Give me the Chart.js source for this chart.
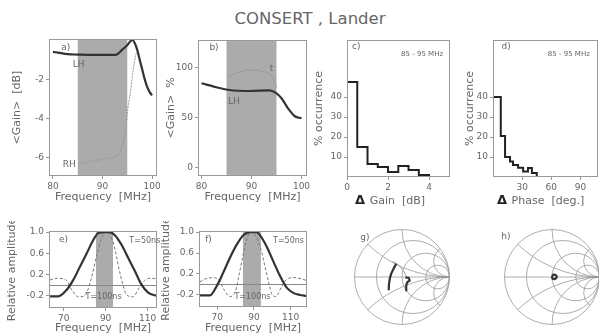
<!DOCTYPE html>
<html>
<head>
<meta charset="utf-8">
<script src="https://cdn.jsdelivr.net/npm/chart.js@4/dist/chart.umd.min.js"></script>
<style>
  html, body { margin: 0; padding: 0; background: #fff; overflow: hidden; width: 599px; height: 336px; }
  canvas { position: absolute; }
  #title { position: absolute; left: 0; top: 9px; width: 620px; text-align: center;
           font: 16.5px "DejaVu Sans"; color: #666; }
</style>
</head>
<body>
<div id="title">CONSERT , Lander</div>
<canvas id="cA" width="167" height="175" style="left:0;top:29px"></canvas>
<canvas id="cB" width="162" height="174" style="left:155px;top:30px"></canvas>
<canvas id="cC" width="155" height="177" style="left:305px;top:30px"></canvas>
<canvas id="cD" width="160" height="177" style="left:448px;top:30px"></canvas>
<canvas id="cE" width="167" height="114" style="left:0;top:221px"></canvas>
<canvas id="cF" width="162" height="114" style="left:155px;top:221px"></canvas>
<canvas id="cG" width="110" height="110" style="left:347px;top:222px"></canvas>
<canvas id="cH" width="110" height="110" style="left:497px;top:222px"></canvas>
<script>
/* ---------- data ---------- */

// a) mean gain [dB] vs frequency
const freqLH_a = [80, 81, 83, 85, 88, 90, 92, 93, 94, 95, 96, 96.5, 97, 97.5, 98, 98.5, 99, 99.5, 100];
const gainLH_a = [-0.56, -0.6, -0.68, -0.7, -0.72, -0.72, -0.72, -0.68, -0.45, -0.22, 0.05, -0.1, -0.45, -0.95, -1.45, -1.95, -2.35, -2.62, -2.8];
const freqRH_a = [85.5, 86.5, 88, 89.5, 91, 92.5, 93.5, 94.2, 94.7, 95.1, 95.6, 96, 96.4, 96.8, 97.2];
const gainRH_a = [-6.3, -6.25, -6.2, -6.12, -6.05, -5.95, -5.7, -5.2, -4.5, -3.5, -2.7, -1.85, -1.15, -0.65, -0.6];

// b) mean gain [%] vs frequency
const freqLH_b = [80, 83, 85.6, 89.6, 93.6, 94.8, 96, 97.3, 98.6, 100];
const gainLH_b = [84.2, 80.2, 77.5, 76.5, 77.2, 74.8, 69.2, 59.2, 51.5, 49.2];
const freqT_b = [85.3, 87.6, 89.6, 91.6, 93.3, 94.3, 95];
const gainT_b = [90.8, 95.8, 97.5, 96.8, 94.2, 89.2, 80];

// c) histogram of gain differences, 85-95 MHz
const gainEdges = [0, 0.5, 1, 1.5, 2, 2.5, 3, 3.5, 4];
const gainOcc = [47.5, 15, 6.5, 5, 2.5, 5.5, 3.5, 1];

// d) histogram of phase differences, 85-95 MHz
const phaseEdges = [0, 8, 12.4, 17.5, 20.6, 25.8, 31, 36, 40, 45];
const phaseOcc = [40, 20.5, 10, 7.7, 6, 4.6, 2.7, 4.5, 2];

// e) relative amplitude
const freq50_e = [63.5, 67.4, 71.4, 74.6, 77.8, 81, 84.1, 86.5, 89.7, 92, 94.4, 97.6, 100.8, 104, 107.1, 110.3, 114.3];
const amp50_e = [-0.21, -0.21, -0.09, 0.1, 0.35, 0.6, 0.85, 0.98, 1.0, 1.0, 0.94, 0.76, 0.51, 0.26, 0.01, -0.14, -0.2];
const freq100_e = [63.5, 67, 71, 74, 77, 80, 83, 86, 88, 90, 92, 94, 97, 100, 103, 106, 109, 112, 114.3];
const amp100_e = [0.1, 0.13, 0.1, -0.1, -0.22, -0.2, 0.1, 0.6, 0.88, 1.0, 0.95, 0.75, 0.2, -0.18, -0.22, -0.05, 0.1, 0.13, 0.12];

// f) relative amplitude
const freq50_f = [60.5, 66, 69.7, 73.3, 76.9, 80.6, 84.2, 87.9, 91.5, 93.3, 97, 100.6, 104.3, 107.9, 111.5, 115.2, 118.5];
const amp50_f = [-0.21, -0.21, -0.03, 0.23, 0.51, 0.76, 0.94, 1.0, 1.0, 0.94, 0.72, 0.44, 0.16, -0.06, -0.16, -0.2, -0.22];
const freq100_f = [60.5, 63, 67, 71, 74, 77, 80, 82, 84, 86, 88, 90, 92, 94, 96, 98, 100, 102, 105, 108, 112, 118.5];
const amp100_f = [0.05, 0.1, 0.13, 0.08, -0.12, -0.23, -0.12, 0.2, 0.55, 0.85, 1.0, 0.97, 0.85, 0.65, 0.35, 0.05, -0.2, -0.23, -0.05, 0.1, 0.13, 0.08];

// g), h) reflection coefficient on Smith chart (real, imag)
const gRe1 = [-0.12, -0.18, -0.24, -0.27, -0.28];
const gIm1 = [0.28, 0.17, 0.03, -0.12, -0.28];
const gRe2 = [0.07, 0.14, 0.16, 0.12, 0.09, 0.09];
const gIm2 = [-0.01, -0.02, -0.08, -0.1, -0.18, -0.3];
const gRe3 = [-0.2, -0.1, 0.0, 0.06, 0.1];
const gIm3 = [0.33, 0.27, 0.17, 0.08, 0.0];
const hRe = [0.0, 0.03, 0.08, 0.1, 0.06, 0.01, 0.0];
const hIm = [0.02, 0.05, 0.04, 0.0, -0.04, -0.03, 0.02];

// Smith chart grid
const smithR = [0.3, 1, 3];
const smithX = [0.4, 1, 3];

/* ---------- helpers ---------- */

const FONT = "DejaVu Sans";
const TXT = "#666";

const pts = (xs, ys) => xs.map((v, i) => ({ x: v, y: ys[i] }));
// histogram outline: rise at first edge, hold each value up to the next edge
const histPts = (edges, vals) => [{ x: edges[0], y: 0 }]
  .concat(vals.map((v, i) => ({ x: edges[i], y: v })))
  .concat([{ x: edges[edges.length - 1], y: 0 }]);

function drawSmith(chart) {
  const { ctx, scales: { x, y } } = chart;
  const cx = x.getPixelForValue(0), cy = y.getPixelForValue(0);
  const R = x.getPixelForValue(1) - cx;
  ctx.strokeStyle = "#999";
  ctx.lineWidth = 0.8;
  ctx.beginPath(); ctx.arc(cx, cy, R, 0, 2 * Math.PI); ctx.stroke();
  ctx.beginPath(); ctx.moveTo(cx - R, cy); ctx.lineTo(cx + R, cy); ctx.stroke();
  ctx.save();
  ctx.beginPath(); ctx.arc(cx, cy, R, 0, 2 * Math.PI); ctx.clip();
  smithR.forEach(r => {
    ctx.beginPath(); ctx.arc(cx + R * r / (1 + r), cy, R / (1 + r), 0, 2 * Math.PI); ctx.stroke();
  });
  smithX.forEach(v => {
    [1, -1].forEach(s => {
      ctx.beginPath(); ctx.arc(cx + R, cy - s * R / v, R / v, 0, 2 * Math.PI); ctx.stroke();
    });
  });
  ctx.restore();
}

// band, zero line, frame, labels
const deco = {
  id: "deco",
  beforeDatasetsDraw(chart, args, o) {
    const { ctx, chartArea: ca, scales } = chart;
    ctx.save();
    if (o.band) {
      const x1 = scales.x.getPixelForValue(o.band[0]);
      const x2 = scales.x.getPixelForValue(o.band[1]);
      ctx.fillStyle = "#ababab";
      ctx.fillRect(x1, ca.top, x2 - x1, ca.bottom - ca.top);
    }
    if (o.zero) {
      const y = Math.round(scales.y.getPixelForValue(0)) + 0.5;
      ctx.strokeStyle = "#888";
      ctx.lineWidth = 1;
      ctx.beginPath(); ctx.moveTo(ca.left, y); ctx.lineTo(ca.right, y); ctx.stroke();
    }
    if (o.smith) drawSmith(chart);
    ctx.restore();
  },
  afterDatasetsDraw(chart, args, o) {
    const { ctx, chartArea: ca, scales } = chart;
    ctx.save();
    if (o.box) {
      ctx.strokeStyle = "#999";
      ctx.lineWidth = 1;
      ctx.strokeRect(ca.left + 0.5, ca.top + 0.5, ca.right - ca.left - 1, ca.bottom - ca.top - 1);
    }
    ctx.textBaseline = "middle";
    (o.notes || []).forEach(n => {
      ctx.font = (n.size || 9) + "px \"" + FONT + "\"";
      ctx.fillStyle = TXT;
      ctx.textAlign = "center";
      ctx.fillText(n.text, scales.x.getPixelForValue(n.x), scales.y.getPixelForValue(n.y));
    });
    // x title with a bold delta sign
    if (o.dtitle) {
      const bold = "bold 13px \"" + FONT + "\"", norm = "11px \"" + FONT + "\"";
      ctx.font = bold; const w1 = ctx.measureText("\u0394 ").width;
      ctx.font = norm; const w2 = ctx.measureText(o.dtitle.text).width;
      let x = scales.x.getPixelForValue(o.dtitle.x) - (w1 + w2) / 2;
      const y = ca.bottom + 24;
      ctx.textAlign = "left";
      ctx.font = bold; ctx.fillStyle = "#222"; ctx.fillText("\u0394", x, y);
      ctx.font = norm; ctx.fillStyle = TXT; ctx.fillText(o.dtitle.text, x + w1, y);
    }
    ctx.restore();
  }
};

function axis(dir, a) {
  return {
    type: "linear",
    display: a.hidden ? false : true,
    min: a.min,
    max: a.max,
    afterBuildTicks: s => { if (a.ticks) s.ticks = a.ticks.map(v => ({ value: v })); },
    afterFit: s => { if (a.size != null) { if (dir === "x") s.height = a.size; else s.width = a.size; } },
    grid: { drawOnChartArea: false, tickLength: 3, color: "#999" },
    border: { display: false },
    ticks: {
      color: TXT, padding: 2, maxRotation: 0, autoSkip: false,
      font: { family: FONT, size: 9 },
      callback: a.fmt || (v => v)
    },
    title: {
      display: !!a.title, text: a.title, color: TXT,
      font: { family: FONT, size: 11 },
      padding: { top: a.tpad || 0, bottom: a.tpad || 0 }
    }
  };
}

function panel(id, datasets, o) {
  return new Chart(document.getElementById(id), {
    type: "line",
    data: { datasets },
    options: {
      responsive: false,
      animation: false,
      layout: { padding: { top: o.padTop ?? 10, right: o.padRight ?? 10, left: 0, bottom: 0 } },
      elements: { point: { radius: 0 } },
      plugins: { legend: { display: false }, tooltip: { enabled: false }, deco: o.deco },
      scales: { x: axis("x", o.x), y: axis("y", o.y) }
    },
    plugins: [deco]
  });
}

const thick = (data, extra) => Object.assign({ data, borderColor: "#333", borderWidth: 2.2, tension: 0.4, cubicInterpolationMode: "monotone", fill: false }, extra);
const thin = (data, extra) => Object.assign({ data, borderColor: "#999", borderWidth: 1, tension: 0.4, cubicInterpolationMode: "monotone", fill: false }, extra);
const hist = data => ({ data, borderColor: "#222", borderWidth: 2, stepped: "before", fill: false });

/* ---------- a) ---------- */
panel("cA", [
  thick(pts(freqLH_a, gainLH_a)),
  thin(pts(freqRH_a, gainRH_a), { borderDash: [2, 1] })
], {
  x: { min: 79.2, max: 101, ticks: [80, 90, 100], size: 28, title: "Frequency  [MHz]" },
  y: { min: -6.95, max: 0.1, ticks: [-6, -4, -2], size: 49, title: "<Gain>  [dB]", tpad: 10.4 },
  deco: { band: [85, 95], box: true, notes: [
    { text: "a)", x: 82.6, y: -0.35 },
    { text: "LH", x: 85.2, y: -1.23 },
    { text: "RH", x: 83.3, y: -6.35 }
  ] }
});

/* ---------- b) ---------- */
panel("cB", [
  thick(pts(freqLH_b, gainLH_b)),
  thin(pts(freqT_b, gainT_b))
], {
  x: { min: 79.3, max: 101.1, ticks: [80, 90, 100], size: 28, title: "Frequency  [MHz]" },
  y: { min: -8.5, max: 127.5, ticks: [0, 50, 100], size: 43, title: "<Gain>  %", tpad: 9.4 },
  deco: { band: [85, 95], box: true, notes: [
    { text: "b)", x: 82.5, y: 120 },
    { text: "LH", x: 86.5, y: 66 },
    { text: "t", x: 94, y: 99 }
  ] }
});

/* ---------- c) ---------- */
panel("cC", [hist(histPts(gainEdges, gainOcc))], {
  x: { min: 0, max: 5.02, ticks: [0, 2, 4], size: 30 },
  y: { min: 0, max: 68.5, ticks: [10, 20, 30, 40], size: 42, title: "% occurrence", tpad: 7.4 },
  deco: { box: true, dtitle: { text: "Gain  [dB]", x: 2.1 }, notes: [
    { text: "c)", x: 0.45, y: 65 },
    { text: "85 - 95 MHz", x: 3.66, y: 61.2, size: 7 }
  ] }
});

/* ---------- d) ---------- */
panel("cD", [hist(histPts(phaseEdges, phaseOcc))], {
  x: { min: 0, max: 108, ticks: [30, 60, 90], size: 30 },
  y: { min: 0, max: 68.5, ticks: [10, 20, 30, 40], size: 45, title: "% occurrence", tpad: 15.4 },
  deco: { box: true, dtitle: { text: "Phase  [deg.]", x: 49 }, notes: [
    { text: "d)", x: 13.4, y: 65 },
    { text: "85 - 95 MHz", x: 78, y: 61.2, size: 7 }
  ] }
});

/* ---------- e) ---------- */
panel("cE", [
  thick(pts(freq50_e, amp50_e)),
  thin(pts(freq100_e, amp100_e), { borderDash: [3, 2], borderColor: "#777" })
], {
  x: { min: 63, max: 114.5, ticks: [70, 90, 110], size: 27, title: "Frequency  [MHz]" },
  y: { min: -0.43, max: 1.02, ticks: [-0.2, 0.2, 0.6, 1.0], size: 49, title: "Relative amplitude", tpad: 5.9, fmt: v => v.toFixed(1) },
  deco: { band: [85.4, 93.5], zero: true, box: true, notes: [
    { text: "e)", x: 69.9, y: 0.86 },
    { text: "T=50ns", x: 108.7, y: 0.84, size: 8 },
    { text: "T=100ns", x: 89, y: -0.23, size: 8 }
  ] }
});

/* ---------- f) ---------- */
panel("cF", [
  thick(pts(freq50_f, amp50_f)),
  thin(pts(freq100_f, amp100_f), { borderDash: [3, 2], borderColor: "#777" })
], {
  x: { min: 60, max: 119, ticks: [70, 90, 110], size: 28, title: "Frequency  [MHz]" },
  y: { min: -0.43, max: 1.02, ticks: [-0.2, 0.2, 0.6, 1.0], size: 44, title: "Relative amplitude", tpad: 4.4, fmt: v => v.toFixed(1) },
  deco: { band: [84, 93.8], zero: true, box: true, notes: [
    { text: "f)", x: 65.2, y: 0.86 },
    { text: "T=50ns", x: 108.9, y: 0.84, size: 8 },
    { text: "T=100ns", x: 89.2, y: -0.23, size: 8 }
  ] }
});

/* ---------- g), h) Smith charts ---------- */
const SM = 55 / 47.5;
panel("cG", [
  thick(pts(gRe1, gIm1), { cubicInterpolationMode: "default" }),
  thick(pts(gRe2, gIm2), { cubicInterpolationMode: "default", tension: 0.2 }),
  thin(pts(gRe3, gIm3), { cubicInterpolationMode: "default" })
], {
  padTop: 0, padRight: 0,
  x: { min: -SM, max: SM, hidden: true },
  y: { min: -SM, max: SM, hidden: true },
  deco: { smith: true, notes: [{ text: "g)", x: -0.78, y: 0.82 }] }
});

panel("cH", [
  thick(pts(hRe, hIm), { cubicInterpolationMode: "default", tension: 0.3 })
], {
  padTop: 0, padRight: 0,
  x: { min: -SM, max: SM, hidden: true },
  y: { min: -SM, max: SM, hidden: true },
  deco: { smith: true, notes: [{ text: "h)", x: -0.97, y: 0.84 }] }
});
</script>
</body>
</html>
